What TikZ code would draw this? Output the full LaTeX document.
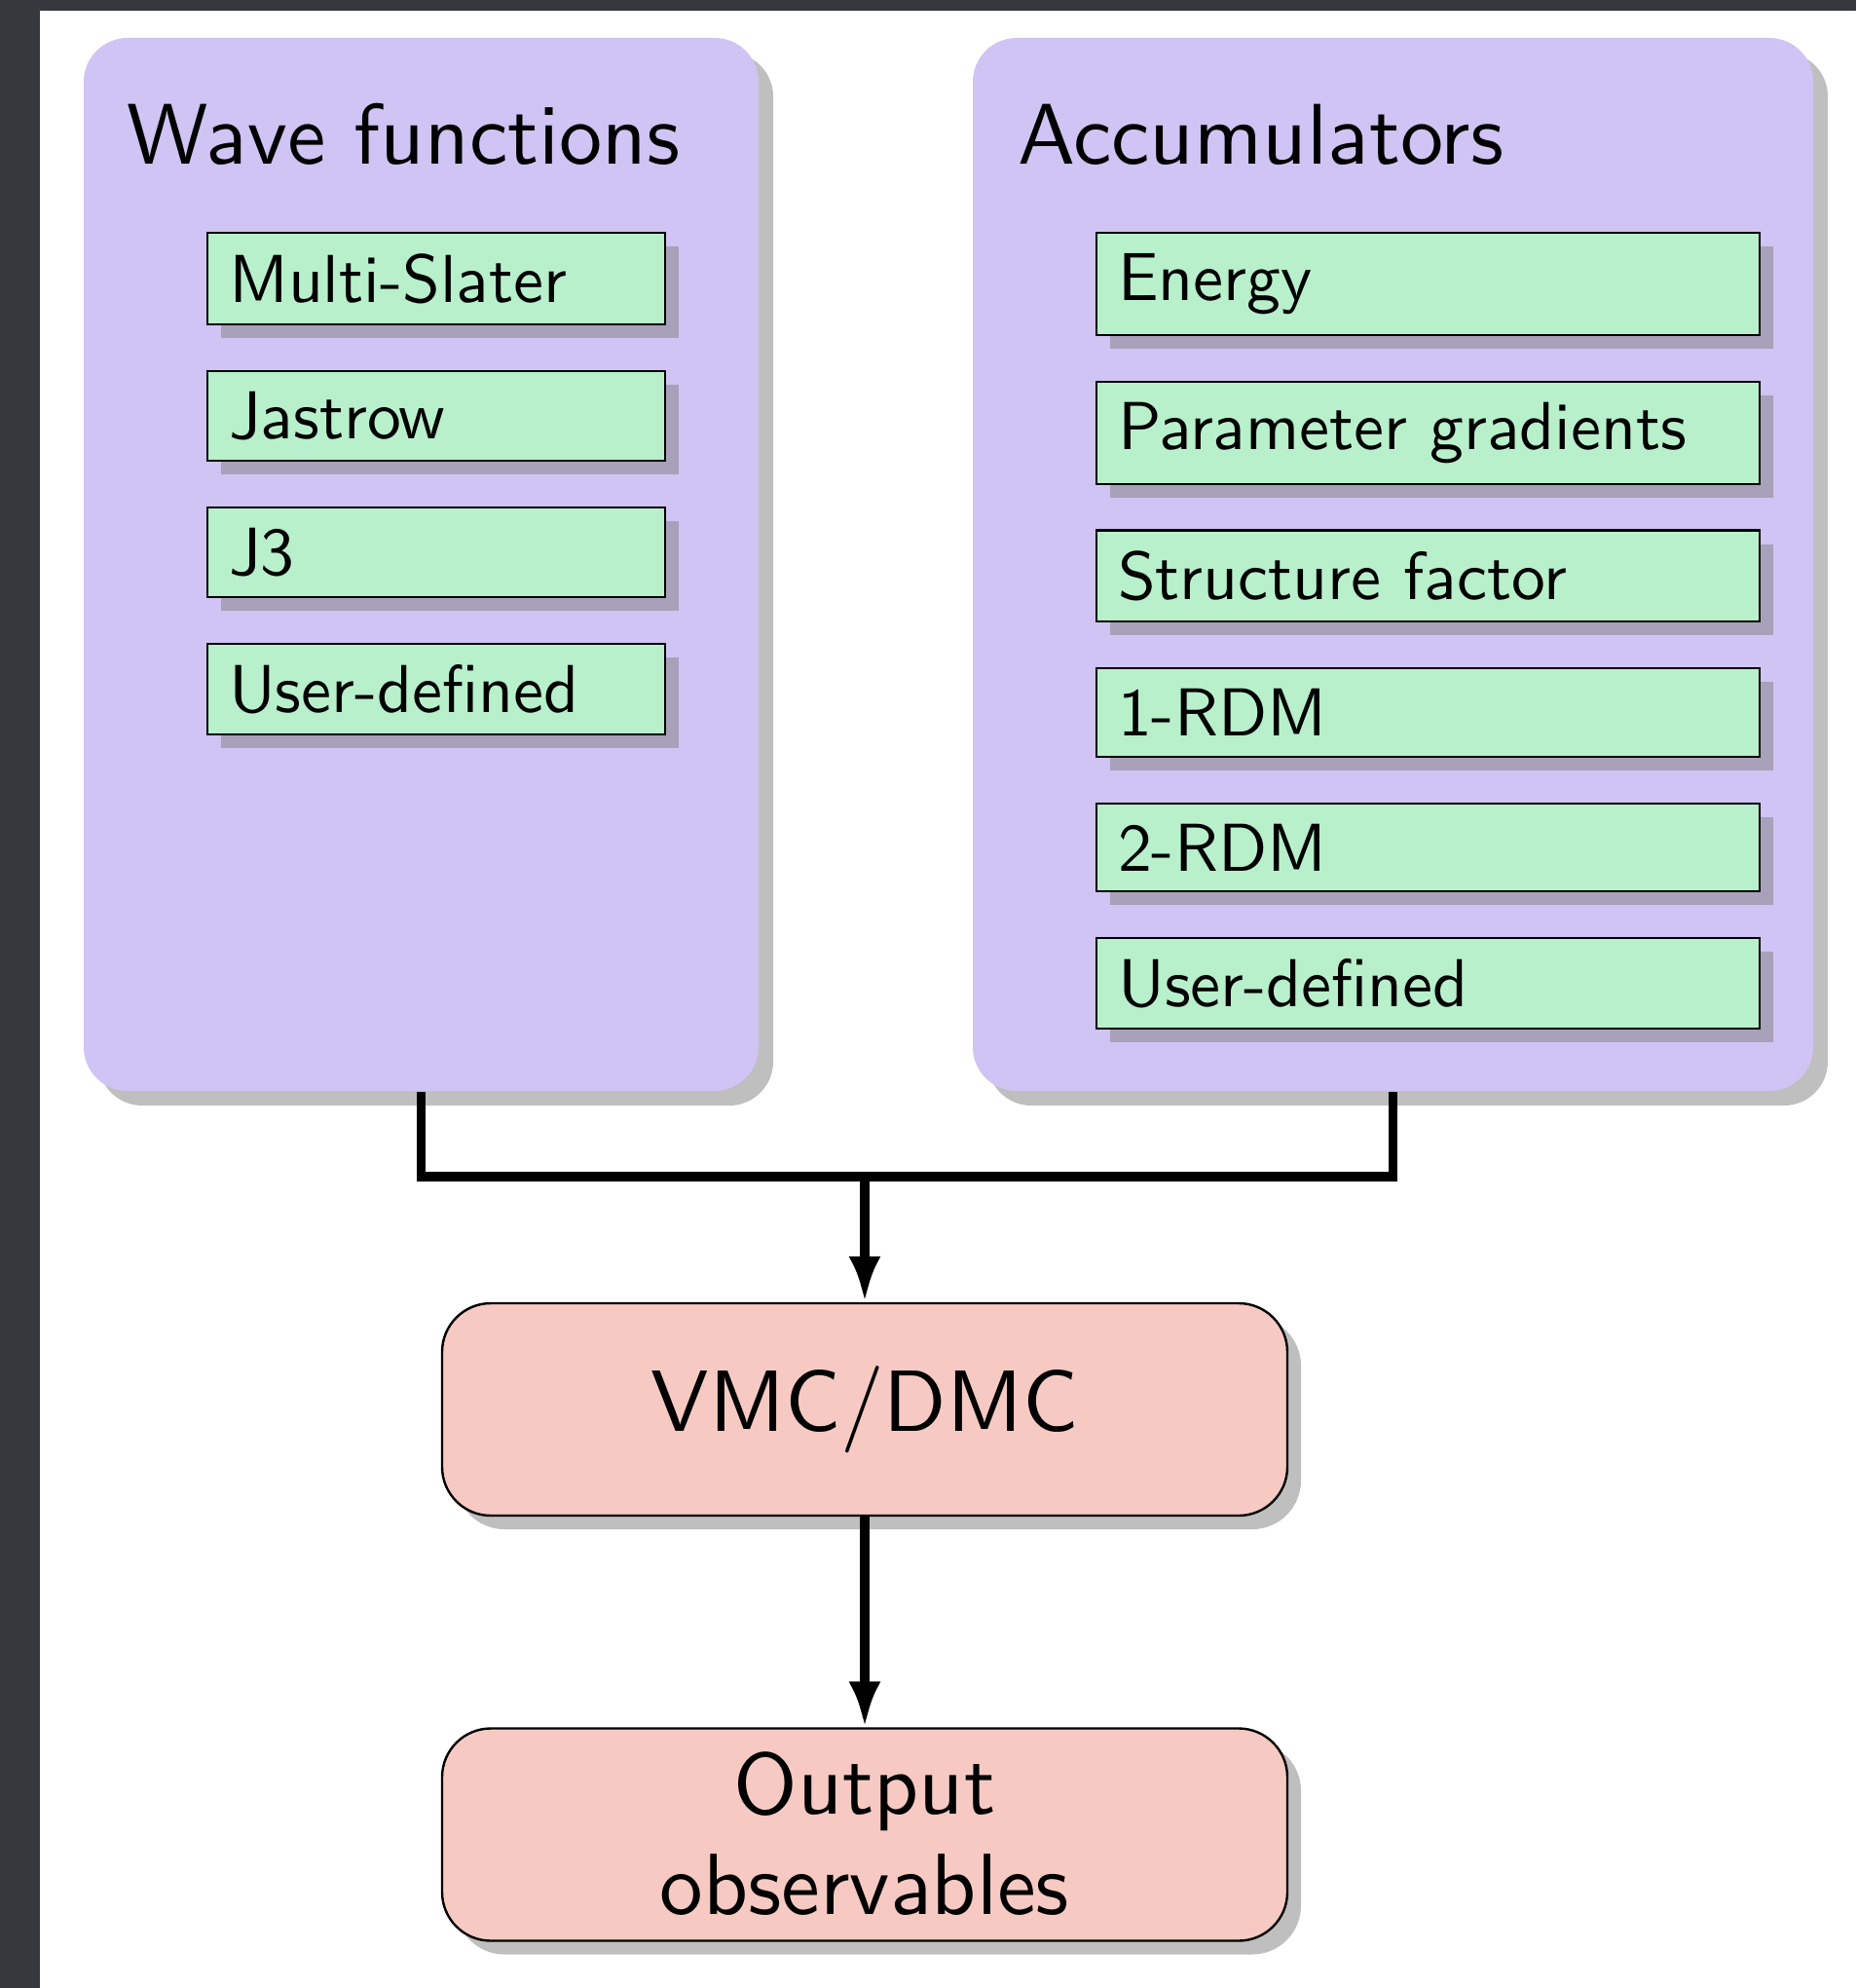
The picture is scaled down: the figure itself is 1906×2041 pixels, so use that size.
\documentclass[tikz,border=0pt]{standalone}
\usepackage{graphicx}
\usetikzlibrary{positioning,shadows,arrows.meta}
\definecolor{wfpurple}{HTML}{CFC4F3}
\definecolor{itgreen}{HTML}{B8F0CC}
\definecolor{runpink}{HTML}{F6CAC2}
\definecolor{darkband}{HTML}{35393E}
\newcommand\bigtxt[1]{\scalebox{2.23}{#1}}
\newcommand\titletxt[1]{\scalebox{2.21}{#1}}
\newcommand\boxtxt[1]{\scalebox{1.74}{#1}}
\newcommand\outtext{\vbox{\offinterlineskip\halign{\hfil##\hfil\cr\rule[-1.94pt]{0pt}{11.65pt}Output\cr\rule[-2.9pt]{0pt}{12.57pt}observables\cr}}}
\begin{document}
\begin{tikzpicture}[x=0.25pt,y=-0.25pt,
  font=\sffamily,
  grpbox/.style={fill=wfpurple, rounded corners=11.25pt, inner sep=0pt,
    drop shadow={shadow xshift=3.75pt, shadow yshift=-3.75pt, fill=black!50, opacity=0.5}},
  itembox/.style={draw=black, line width=0.55pt, fill=itgreen, rectangle,
    inner xsep=5.5pt, inner ysep=5.3pt, align=left,
    drop shadow={shadow xshift=3.5pt, shadow yshift=-3.5pt, fill=black!50, opacity=0.5}},
  itemL/.style={itembox, text width=106.5pt},
  itemR/.style={itembox, text width=159.25pt},
  grptitle/.style={anchor=base west, inner sep=0pt},
  stage/.style={draw=black, line width=0.6pt, fill=runpink, rounded corners=12.5pt,
    minimum width=217pt, minimum height=54.5pt, inner sep=0pt, align=center,
    drop shadow={shadow xshift=3.5pt, shadow yshift=-3.5pt, fill=black!50, opacity=0.5}},
  conn/.style={line width=2.4pt},
  arr/.style={conn, -{Latex[length=11.75pt,width=8.25pt]}},
  node distance=11.4pt
]
\useasboundingbox (0,0) rectangle (1906,2041);
\fill[white] (0,0) rectangle (1906,2041);
\fill[darkband] (0,0) rectangle (41,2041);
\fill[darkband] (0,0) rectangle (1906,11);

% group containers
\node[grpbox, minimum width=173.25pt, minimum height=270.25pt] (wf) at (432.5,579.5) {};
\node[grpbox, minimum width=215.75pt, minimum height=270.25pt] (acc) at (1430.5,579.5) {};
\node[grptitle] (wft) at (130,169) {\titletxt{Wave functions}};
\node[grptitle] (acct) at (1045,169) {\titletxt{Accumulators}};

% wave function items
\node[itemL, anchor=north west] (ms) at (212,238) {\boxtxt{Multi-Slater}};
\node[itemL, below=of ms] (jas) {\boxtxt{Jastrow}};
\node[itemL, below=of jas] (j3) {\boxtxt{J3}};
\node[itemL, below=of j3] (wfu) {\boxtxt{User-defined}};

% accumulator items
\node[itemR, anchor=north west] (en) at (1125,238) {\boxtxt{Energy}};
\node[itemR, below=of en] (pg) {\boxtxt{Parameter gradients}};
\node[itemR, below=of pg] (sf) {\boxtxt{Structure factor}};
\node[itemR, below=of sf] (r1) {\boxtxt{1-RDM}};
\node[itemR, below=of r1] (r2) {\boxtxt{2-RDM}};
\node[itemR, below=of r2] (acu) {\boxtxt{User-defined}};

% stages
\node[stage] (vmc) at (888,1447) {\bigtxt{VMC/DMC}};
\node[stage] (out) at (888,1883.5) {\bigtxt{\outtext}};

% connectors
\coordinate (j) at (888,1208);
\draw[conn] (wf.south) |- (j) -| (acc.south);
\draw[arr] (j) -- (vmc.north);
\draw[arr] (vmc.south) -- (out.north);
\end{tikzpicture}
\end{document}
